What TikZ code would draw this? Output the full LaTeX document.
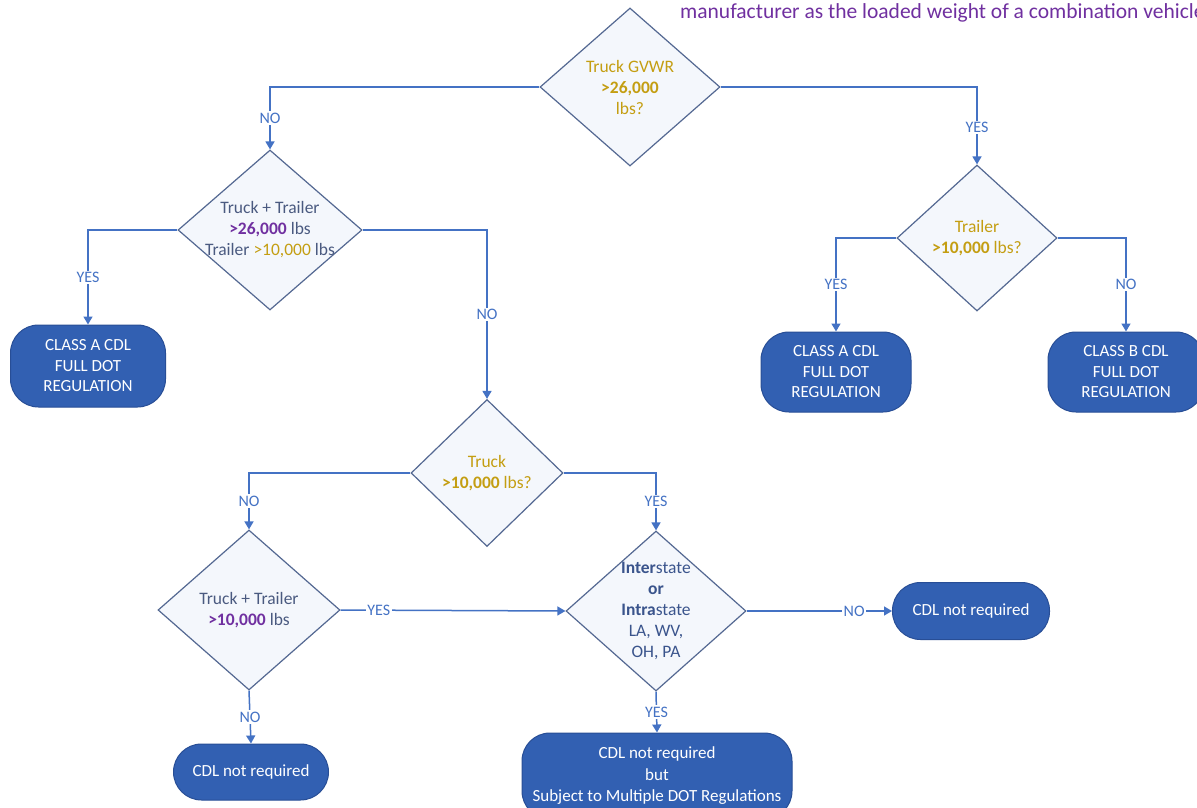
\documentclass[tikz,border=0pt]{standalone}
\usepackage{fontspec}
\setmainfont{Carlito}
\usetikzlibrary{shapes.geometric,arrows.meta}
\definecolor{linkblue}{RGB}{68,114,196}
\definecolor{diamondline}{RGB}{84,104,146}
\definecolor{diamondfill}{RGB}{244,247,252}
\definecolor{termfill}{RGB}{50,96,178}
\definecolor{termline}{RGB}{40,78,150}
\definecolor{slate}{RGB}{74,90,128}
\definecolor{gold}{RGB}{196,158,18}
\definecolor{plum}{RGB}{112,48,160}
\definecolor{stateblue}{RGB}{58,84,140}
\begin{document}
\begin{tikzpicture}[x=1pt,y=-1pt,
    decision/.style={diamond, draw=diamondline, fill=diamondfill, line width=1.2pt, inner sep=-25pt, align=center, text=slate, font=\fontsize{17.5}{21}\selectfont},
    terminal/.style={rectangle, rounded corners=28pt, draw=termline, fill=termfill, line width=1pt, text=white, align=center, font=\fontsize{17}{20.5}\selectfont},
    link/.style={draw=linkblue, line width=1.5pt, -{Triangle[width=9pt,length=8pt]}},
    answer/.style={fill=white, text=linkblue, inner sep=1.5pt, font=\fontsize{16}{18}\selectfont}]
    \useasboundingbox[fill=white] (0,0) rectangle (1197,808);
    \node[anchor=west, text=plum, font=\fontsize{21.5}{24}\selectfont, inner sep=0pt] (note) at (680,13) {manufacturer as the loaded weight of a combination vehicle};
    \node[decision, minimum width=180pt, minimum height=158pt, text=gold] (gvwr) at (630,87) {Truck GVWR\\\textbf{>26,000}\\lbs?};
    \node[decision, minimum width=184pt, minimum height=160pt] (tt1) at (270,230) {Truck + Trailer\\\textcolor{plum}{\textbf{>26,000}} lbs\\Trailer \textcolor{gold}{>10,000} lbs};
    \node[decision, minimum width=160pt, minimum height=146pt, text=gold] (trailer) at (977,238) {Trailer\\\textbf{>10,000} lbs?};
    \node[decision, minimum width=152pt, minimum height=147pt, text=gold] (truck) at (487,473) {Truck\\\textbf{>10,000} lbs?};
    \node[decision, minimum width=182pt, minimum height=160pt] (tt2) at (249,610) {Truck + Trailer\\\textcolor{plum}{\textbf{>10,000}} lbs};
    \node[decision, minimum width=180pt, minimum height=160pt, text=stateblue] (inter) at (656,611) {\textbf{Inter}state\\\textbf{or}\\\textbf{Intra}state\\LA, WV,\\OH, PA};
    \node[terminal, minimum width=155pt, minimum height=82pt] (classaleft) at (88,366) {CLASS A CDL\\FULL DOT\\REGULATION};
    \node[terminal, minimum width=150pt, minimum height=80pt] (classaright) at (836,372) {CLASS A CDL\\FULL DOT\\REGULATION};
    \node[terminal, minimum width=156pt, minimum height=80pt] (classb) at (1126,372) {CLASS B CDL\\FULL DOT\\REGULATION};
    \node[terminal, minimum width=155pt, minimum height=56pt] (cdlleft) at (251,772) {CDL not required};
    \node[terminal, minimum width=157pt, minimum height=57pt] (cdlright) at (971,611) {CDL not required};
    \node[terminal, minimum width=270pt, minimum height=86pt, font=\fontsize{17}{21.5}\selectfont] (cdlbottom) at (657,776) {CDL not required\\but\\Subject to Multiple DOT Regulations};
    \draw[link] (gvwr.west) -| node[answer, pos=.75] {NO} (tt1.north);
    \draw[link] (gvwr.east) -| node[answer, pos=.76] {YES} (trailer.north);
    \draw[link] (tt1.west) -| node[answer, pos=.75] {YES} (classaleft.north);
    \draw[link] (tt1.east) -| node[answer, pos=.75] {NO} (truck.north);
    \draw[link] (trailer.west) -| node[answer, pos=.75] {YES} (classaright.north);
    \draw[link] (trailer.east) -| node[answer, pos=.75] {NO} (classb.north);
    \draw[link] (truck.west) -| node[answer, pos=.75] {NO} (tt2.north);
    \draw[link] (truck.east) -| node[answer, pos=.75] {YES} (inter.north);
    \draw[link] (tt2.east) -- node[answer, pos=.17] {YES} (inter.west);
    \draw[link] (tt2.south) -- node[answer, pos=.5] {NO} (cdlleft.north);
    \draw[link] (inter.east) -- node[answer, pos=.74] {NO} (cdlright.west);
    \draw[link] (inter.south) -- node[answer, pos=.5] {YES} (cdlbottom.north);
\end{tikzpicture}
\end{document}
